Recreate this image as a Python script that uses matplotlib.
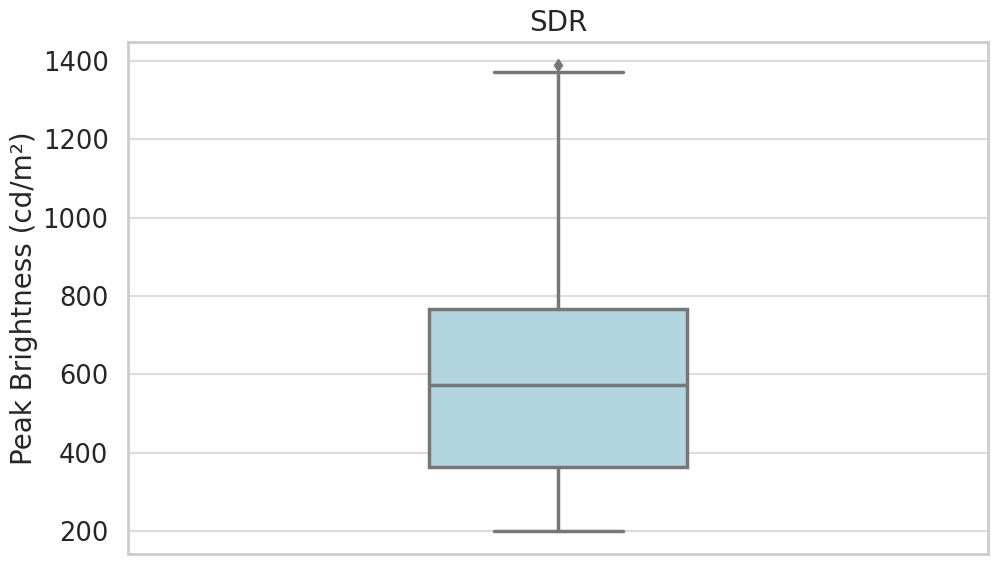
import matplotlib
matplotlib.use('Agg')
import matplotlib.pyplot as plt
import seaborn as sns

# box statistics (cd/m²)
label = 'SDR'
q1 = 363
median = 573
q3 = 767
whislo = 200
whishi = 1372
outliers = [1390]

sns.set_theme(style='whitegrid')
plt.rcParams['font.family'] = ['DejaVu Sans']

fig, ax = plt.subplots(figsize=(10, 5.66), dpi=100)

stats = [{'med': median, 'q1': q1, 'q3': q3,
          'whislo': whislo, 'whishi': whishi, 'fliers': outliers}]

line_col = '#777777'
ax.bxp(stats, positions=[0], widths=0.3, patch_artist=True, showfliers=True,
       boxprops=dict(facecolor='#b3d5e0', edgecolor=line_col, linewidth=2.5),
       medianprops=dict(color=line_col, linewidth=2.5),
       whiskerprops=dict(color=line_col, linewidth=2.5),
       capprops=dict(color=line_col, linewidth=2.5),
       flierprops=dict(marker='d', markerfacecolor=line_col, markeredgecolor=line_col,
                       markersize=6))

ax.set_xlim(-0.5, 0.5)
ax.set_xticks([])
ax.set_ylim(141, 1449)
ax.set_yticks([200, 400, 600, 800, 1000, 1200, 1400])
ax.tick_params(axis='y', labelsize=18.5, colors='#262626', pad=8)
ax.set_ylabel('Peak Brightness (cd/m²)', fontsize=20, color='#262626', labelpad=3)
ax.set_title(label, fontsize=20, color='#262626', pad=8)
ax.grid(axis='x', visible=False)
ax.grid(axis='y', color='#dddddd', linewidth=1.5)
for s in ax.spines.values():
    s.set_color('#cccccc')
    s.set_linewidth(2)

fig.subplots_adjust(left=0.128, right=0.988, top=0.926, bottom=0.021)
fig.savefig('out.png')
